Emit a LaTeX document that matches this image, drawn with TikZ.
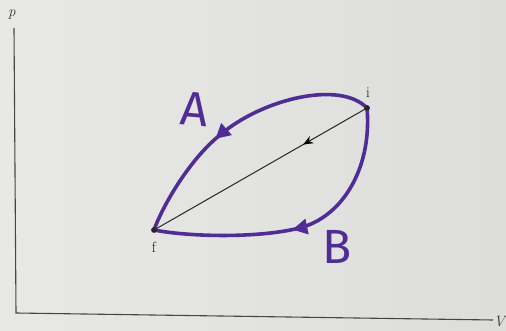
\documentclass[tikz,border=0pt]{standalone}
\usepackage{fontspec}
\newfontfamily\handfont{Fira Sans}
\usetikzlibrary{arrows.meta,decorations.markings}
\definecolor{paperL}{RGB}{232,232,230}
\definecolor{paperR}{RGB}{221,221,219}
\definecolor{marker}{RGB}{80,44,150}
\definecolor{axisgray}{RGB}{70,70,70}
\begin{document}
\begin{tikzpicture}[x=1pt,y=-1pt,
  axisline/.style={draw=axisgray,line width=1.1pt},
  dot/.style={circle,fill=black!85,inner sep=0pt,minimum size=5.5pt},
  ptlabel/.style={font=\fontsize{15}{15}\selectfont,text=black!90,inner sep=1pt},
  axlabel/.style={font=\fontsize{15}{15}\selectfont\itshape,text=black!80,inner sep=1pt},
  hand/.style={font=\handfont\fontsize{48}{48}\selectfont,text=marker,inner sep=0pt},
  pathcurve/.style={draw=marker,line width=3.6pt,line cap=round,line join=round},
  marrow/.style={postaction={decorate,decoration={markings,
      mark=at position #1 with {\arrow[marker]{Triangle[length=15pt,width=15pt]}}}}},
  chord/.style={draw=black!85,line width=1pt},
]
\useasboundingbox (0,0) rectangle (506,331);
\shade[left color=paperL,right color=paperR] (0,0) rectangle (506,331);

% axes
\coordinate (ytop) at (14,28);
\coordinate (org) at (16,313);
\coordinate (xend) at (493,320);
\draw[axisline] (ytop) -- (org) -- (xend);
\node[axlabel] (plab) at (12,15) {p};
\node[axlabel,anchor=east] (vlab) at (506,322) {V};

% states
\node[dot] (i) at (367,108) {};
\node[dot] (f) at (154,230) {};
\node[ptlabel] (ilab) at (368,93) {i};
\node[ptlabel] (flab) at (154,247) {f};

% path A
\coordinate (a) at (220,135);
\path[pathcurve,marrow=0.60] (i.center) .. controls (340,80) and (262,99) .. (a)
  .. controls (190,159) and (163,205) .. (f.center);
% path B
\coordinate (b) at (303,227);
\path[pathcurve,marrow=0.53] (i.center) .. controls (372,165) and (345,214) .. (b)
  .. controls (265,238) and (193,237.5) .. (f.center);

% chord
\path[chord,postaction={decorate,decoration={markings,
    mark=at position 0.3 with {\arrow[black]{Stealth[length=10pt,width=8pt]}}}}]
  (i.center) -- (f.center);
\node[dot] at (i) {};
\node[dot] at (f) {};

% labels
\node[hand,rotate=-5] (Alab) at (195,109) {A};
\node[hand] (Blab) at (337,247) {B};
\end{tikzpicture}
\end{document}
